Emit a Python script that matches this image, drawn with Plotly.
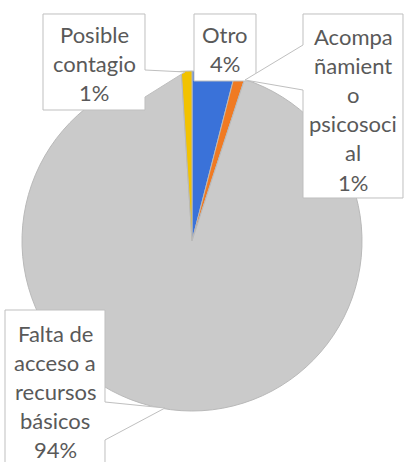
import plotly.graph_objects as go

W, H = 404, 462

# ---- data ----
categories = ["Otro", "Acompañamiento psicosocial",
              "Falta de acceso a recursos básicos", "Posible contagio"]
values = [4, 1, 94, 1]
slice_colors = ["#3A72D9", "#F07A22", "#CACACA", "#F2C200"]
# label lines as wrapped in the original callouts
label_lines = [["Otro"],
               ["Acompa", "ñamient", "o", "psicosoci", "al"],
               ["Falta de", "acceso a", "recursos", "básicos"],
               ["Posible", "contagio"]]

total = sum(values)
pct_text = [f"{round(v / total * 100)}%" for v in values]


def px(x):
    return x / W


def py(y):
    return 1 - y / H


def path(points):
    s = "M " + " L ".join(f"{px(x):.5f},{py(y):.5f}" for x, y in points) + " Z"
    return s


fig = go.Figure()
fig.add_trace(go.Pie(
    labels=categories, values=values, sort=False, direction="clockwise",
    rotation=0, textinfo="none", hoverinfo="skip", showlegend=False,
    marker=dict(colors=slice_colors, line=dict(color="#B9B9B9", width=1)),
    domain=dict(x=[px(22), px(362)], y=[py(411), py(71)]),
))

# callout geometry (pixels): one per category, in category order
callouts = [
    dict(poly=[(194, 14), (256, 14), (256, 81), (194, 81)], cx=225, y0=34),
    dict(poly=[(303, 14), (403, 14), (403, 198), (303, 198), (303, 90),
               (245, 80), (303, 45)], cx=353, y0=36),
    dict(poly=[(5, 310), (105, 310), (105, 402), (165, 408), (105, 440),
               (105, 470), (5, 470)], cx=55, y0=333),
    dict(poly=[(43, 14), (145, 14), (145, 70), (185, 72), (145, 97),
               (145, 110), (43, 110)], cx=94, y0=34),
]
LINE_H = 29.2

shapes = []
annotations = []
for i, c in enumerate(callouts):
    shapes.append(dict(type="path", xref="paper", yref="paper",
                       path=path(c["poly"]), fillcolor="white",
                       line=dict(color="#BFBFBF", width=1), layer="above"))
    lines = label_lines[i] + [pct_text[i]]
    for j, t in enumerate(lines):
        annotations.append(dict(
            text=t, x=px(c["cx"]), y=py(c["y0"] + j * LINE_H),
            xref="paper", yref="paper", xanchor="center", yanchor="middle",
            showarrow=False,
            font=dict(family="Lato", size=22, color="#595959")))

fig.update_layout(
    width=W, height=H, margin=dict(l=0, r=0, t=0, b=0),
    paper_bgcolor="white", plot_bgcolor="white",
    shapes=shapes, annotations=annotations,
)
fig.write_html(
    "out.html",
    config={"displayModeBar": False, "staticPlot": True},
    post_script="document.body.style.margin='0';document.body.style.padding='0';"
                "document.body.style.overflow='hidden';",
)
